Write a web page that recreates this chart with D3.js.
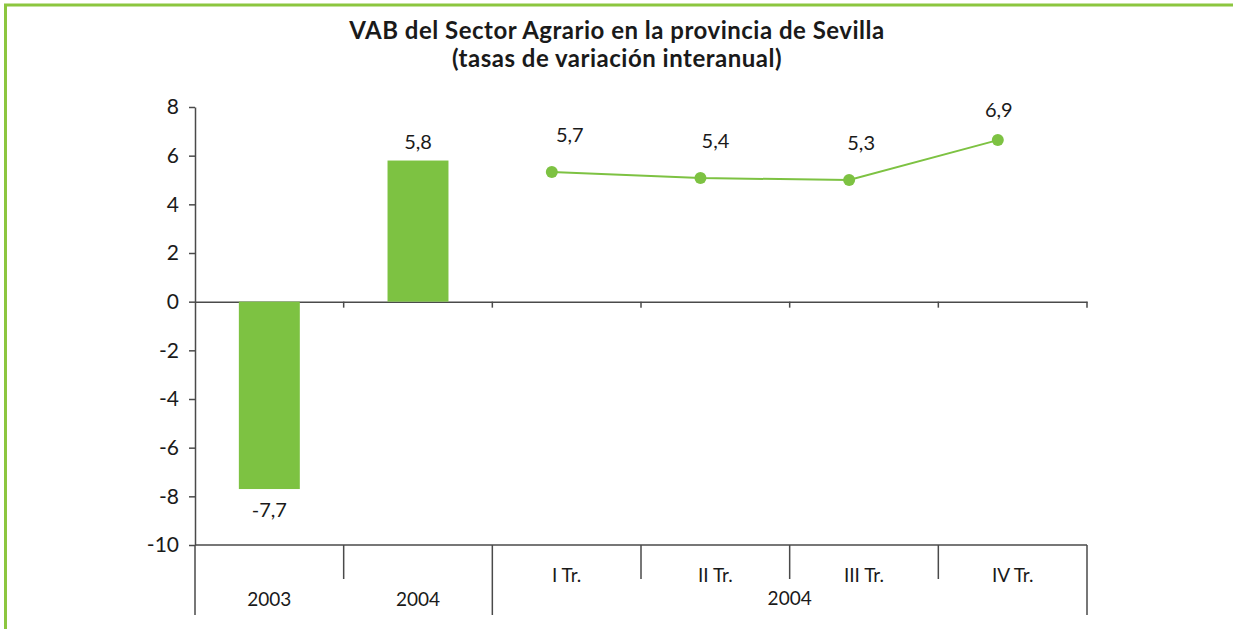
<!DOCTYPE html>
<html>
<head>
<meta charset="utf-8">
<script src="https://cdn.jsdelivr.net/npm/d3@7"></script>
<style>
  body { margin: 0; background: #fff; }
  svg { display: block; font-family: Lato, "Open Sans", sans-serif; }
</style>
</head>
<body>
<div id="chart"></div>
<script>
// data
const categories = ["2003", "2004", "I Tr.", "II Tr.", "III Tr.", "IV Tr."];
const barCats = ["2003", "2004"];
const barValues = [-7.7, 5.8];
const barLabels = ["-7,7", "5,8"];
const quarterCats = ["I Tr.", "II Tr.", "III Tr.", "IV Tr."];
const quarterValues = [5.33, 5.08, 5.0, 6.64]; // where the dots sit in the picture
const quarterLabels = ["5,7", "5,4", "5,3", "6,9"];
const yTicks = [8, 6, 4, 2, 0, -2, -4, -6, -8, -10];
const groups = [
  { label: "2003", from: "2003", to: "2003" },
  { label: "2004", from: "2004", to: "2004" },
  { label: "2004", from: "I Tr.", to: "IV Tr." }
];

const width = 1233, height = 629;
const margin = { top: 107, right: 146, bottom: 84, left: 195 };
const green = "#7dc242";
const axisColor = "#4a4a4a";

const svg = d3.select("#chart").append("svg")
  .attr("width", width)
  .attr("height", height);

// green frame (top + left)
svg.append("path")
  .attr("d", `M5.5,${height} L5.5,5 L${width},5`)
  .attr("fill", "none")
  .attr("stroke", "#8cc63f")
  .attr("stroke-width", 3);

// title
const titleLines = ["VAB del Sector Agrario en la provincia de Sevilla", "(tasas de variación interanual)"];
svg.selectAll(".title")
  .data(titleLines)
  .enter()
  .append("text")
  .attr("x", 617)
  .attr("y", (d, i) => 39 + i * 28)
  .attr("text-anchor", "middle")
  .style("font-size", "24px").style("font-weight", "bold")
  .style("letter-spacing", "0.5px").style("fill", "#1a1a1a")
  .text(d => d);

const x = d3.scaleBand()
  .domain(categories)
  .range([margin.left, width - margin.right]);

const y = d3.scaleLinear()
  .domain([-10, 8])
  .range([height - margin.bottom, margin.top]);

// y axis
const yAxis = svg.append("g")
  .attr("transform", `translate(${margin.left},0)`)
  .call(d3.axisLeft(y).tickValues(yTicks).tickFormat(d => String(d))
    .tickSize(6).tickPadding(10).tickSizeOuter(0));
yAxis.select(".domain").attr("stroke", axisColor).attr("stroke-width", 1.5);
yAxis.selectAll(".tick line").attr("stroke", axisColor).attr("stroke-width", 1.5);
yAxis.selectAll(".tick text")
  .style("font-size", "21px").style("fill", "#1a1a1a").style("font-family", "Lato, sans-serif");

// zero line with category ticks
const zeroAxis = svg.append("g")
  .attr("transform", `translate(0,${y(0)})`)
  .call(d3.axisBottom(x).tickValues([]).tickSizeOuter(0));
zeroAxis.select(".domain").attr("stroke", axisColor).attr("stroke-width", 1.5);
const bounds = categories.map(c => x(c)).concat([x.range()[1]]);
zeroAxis.selectAll(".sep")
  .data(bounds.slice(1))
  .enter()
  .append("line")
  .attr("x1", d => d).attr("x2", d => d)
  .attr("y1", 0).attr("y2", 6)
  .attr("stroke", axisColor).attr("stroke-width", 1.5);

// bottom line
const bottomY = y(-10);
svg.append("line")
  .attr("x1", margin.left).attr("x2", x.range()[1])
  .attr("y1", bottomY).attr("y2", bottomY)
  .attr("stroke", axisColor).attr("stroke-width", 1.5);

// separators below the bottom line
const longBounds = [x("2003"), x("I Tr."), x.range()[1]];
svg.selectAll(".vsep")
  .data(bounds)
  .enter()
  .append("line")
  .attr("x1", d => d).attr("x2", d => d)
  .attr("y1", bottomY)
  .attr("y2", d => longBounds.some(b => Math.abs(b - d) < 0.5) ? bottomY + 70 : bottomY + 34)
  .attr("stroke", axisColor).attr("stroke-width", 1.5);

// category labels
svg.selectAll(".qlabel")
  .data(quarterCats)
  .enter()
  .append("text")
  .attr("x", d => x(d) + x.bandwidth() / 2)
  .attr("y", bottomY + 37)
  .attr("text-anchor", "middle")
  .style("font-size", "19px").style("fill", "#1a1a1a")
  .text(d => d);

svg.selectAll(".glabel")
  .data(groups)
  .enter()
  .append("text")
  .attr("x", d => (x(d.from) + x(d.to) + x.bandwidth()) / 2)
  .attr("y", d => d.from === d.to ? bottomY + 61 : bottomY + 60)
  .attr("text-anchor", "middle")
  .style("font-size", "19px").style("fill", "#1a1a1a")
  .text(d => d.label);

// bars
const barW = x.bandwidth() * 0.41;
svg.selectAll(".bar")
  .data(barValues)
  .enter()
  .append("rect")
  .attr("x", (d, i) => x(barCats[i]) + (x.bandwidth() - barW) / 2)
  .attr("y", d => y(Math.max(0, d)))
  .attr("width", barW)
  .attr("height", d => Math.abs(y(d) - y(0)))
  .attr("fill", green);

svg.selectAll(".barlabel")
  .data(barValues)
  .enter()
  .append("text")
  .attr("x", (d, i) => x(barCats[i]) + x.bandwidth() / 2)
  .attr("y", d => d >= 0 ? y(d) - 12 : y(d) + 28)
  .attr("text-anchor", "middle")
  .style("font-size", "20px").style("fill", "#1a1a1a")
  .text((d, i) => barLabels[i]);

// quarterly line (dots sit a bit left of the band centre)
const cx = d => x(d) + x.bandwidth() * 0.4;
const line = d3.line()
  .x((d, i) => cx(quarterCats[i]))
  .y(d => y(d));

svg.append("path")
  .datum(quarterValues)
  .attr("d", line)
  .attr("fill", "none")
  .attr("stroke", green)
  .attr("stroke-width", 2);

svg.selectAll(".dot")
  .data(quarterValues)
  .enter()
  .append("circle")
  .attr("cx", (d, i) => cx(quarterCats[i]))
  .attr("cy", d => y(d))
  .attr("r", 6)
  .attr("fill", green);

svg.selectAll(".dotlabel")
  .data(quarterValues)
  .enter()
  .append("text")
  .attr("x", (d, i) => cx(quarterCats[i]) + (i < 3 ? 18 - i * 3 : 1))
  .attr("y", (d, i) => y(d) - (i < 3 ? 30 : 23))
  .attr("text-anchor", "middle")
  .style("font-size", "20px").style("fill", "#1a1a1a")
  .text((d, i) => quarterLabels[i]);
</script>
</body>
</html>
